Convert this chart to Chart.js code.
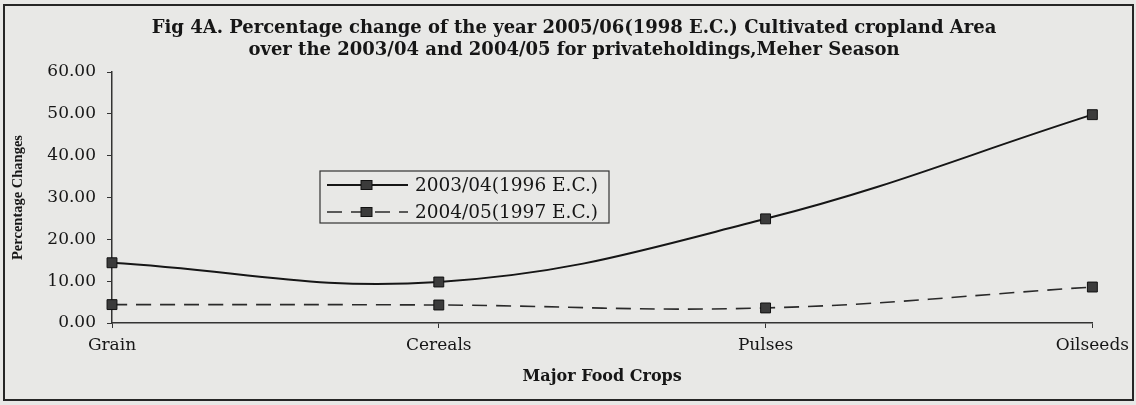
<!DOCTYPE html>
<html>
<head>
<meta charset="utf-8">
<script src="https://cdn.jsdelivr.net/npm/chart.js@4/dist/chart.umd.min.js"></script>
<style>
  html, body { margin: 0; padding: 0; background: #e8e8e6; }
  #wrap { position: relative; width: 1136px; height: 405px; }
  #frame {
    position: absolute; left: 3px; top: 4px; width: 1127px; height: 393px;
    border: 2px solid #262626; pointer-events: none;
  }
</style>
</head>
<body>
<div id="wrap">
  <canvas id="chart" width="1136" height="405"></canvas>
  <div id="frame"></div>
</div>
<script>
// 作物类别
const categories = ['Grain', 'Cereals', 'Pulses', 'Oilseeds'];

// 两个对比年度的百分比变化
const change200304 = [14.4, 9.8, 24.9, 49.8];
const change200405 = [4.4, 4.3, 3.6, 8.6];

// y 轴刻度
const yMin = 0;
const yMax = 60;
const yStep = 10;

const titleLines = [
  'Fig 4A. Percentage change of the year 2005/06(1998 E.C.) Cultivated cropland Area',
  'over the 2003/04 and 2004/05 for privateholdings,Meher Season'
];

const serif = '"DejaVu Serif", "Liberation Serif", serif';
const ink = '#161616';

// 标题：居中于整幅图（而不是绘图区）
const pageTitle = {
  id: 'pageTitle',
  afterDraw(chart) {
    const { ctx, width } = chart;
    ctx.save();
    ctx.font = 'bold 18px ' + serif;
    ctx.fillStyle = ink;
    ctx.textAlign = 'center';
    ctx.textBaseline = 'middle';
    titleLines.forEach((t, i) => ctx.fillText(t, width / 2 + 6, 28 + i * 22));
    ctx.restore();
  }
};

// 图内的图例框
const boxLegend = {
  id: 'boxLegend',
  afterDraw(chart) {
    const { ctx, chartArea } = chart;
    const x0 = chartArea.left + 208;
    const y0 = chartArea.top + 99;
    const w = 289, h = 52;
    ctx.save();
    ctx.strokeStyle = '#333';
    ctx.lineWidth = 1.2;
    ctx.strokeRect(x0, y0, w, h);
    ctx.font = '18.5px ' + serif;
    ctx.textBaseline = 'middle';
    chart.data.datasets.forEach((ds, i) => {
      const y = y0 + 14 + i * 27;
      ctx.strokeStyle = ds.borderColor;
      ctx.lineWidth = ds.borderWidth;
      ctx.setLineDash(ds.borderDash || []);
      ctx.beginPath();
      ctx.moveTo(x0 + 7, y);
      ctx.lineTo(x0 + 88, y);
      ctx.stroke();
      ctx.setLineDash([]);
      ctx.fillStyle = ds.pointBackgroundColor;
      ctx.fillRect(x0 + 41, y - 4.5, 11, 9);
      ctx.strokeStyle = ds.pointBorderColor;
      ctx.lineWidth = 1;
      ctx.strokeRect(x0 + 41, y - 4.5, 11, 9);
      ctx.fillStyle = ink;
      ctx.fillText(ds.label, x0 + 95, y + 1);
    });
    ctx.restore();
  }
};

new Chart(document.getElementById('chart'), {
  type: 'line',
  data: {
    labels: categories,
    datasets: [{
      label: '2003/04(1996 E.C.)',
      data: change200304,
      borderColor: ink,
      borderWidth: 2,
      tension: 0.4,
      pointStyle: 'rect',
      pointRadius: 7,
      pointBackgroundColor: '#3b3b3b',
      pointBorderColor: '#111',
      pointBorderWidth: 1
    }, {
      label: '2004/05(1997 E.C.)',
      data: change200405,
      borderColor: '#2a2a2a',
      borderWidth: 1.6,
      borderDash: [15, 9],
      tension: 0.4,
      pointStyle: 'rect',
      pointRadius: 7,
      pointBackgroundColor: '#3b3b3b',
      pointBorderColor: '#111',
      pointBorderWidth: 1
    }]
  },
  options: {
    responsive: false,
    animation: false,
    layout: { padding: { left: 8, right: 43, top: 72, bottom: 12 } },
    plugins: {
      legend: { display: false },
      tooltip: { enabled: false },
      title: { display: false }
    },
    scales: {
      x: {
        afterFit: s => { s.height = 70; },
        grid: { drawOnChartArea: false, tickLength: 5, color: '#333' },
        border: { color: '#333', width: 1.5 },
        ticks: { color: ink, padding: 7, font: { family: serif, size: 17 } },
        title: {
          display: true,
          text: 'Major Food Crops',
          color: ink,
          font: { family: serif, size: 16, weight: 'bold' },
          padding: { top: 0, bottom: 7 }
        }
      },
      y: {
        min: yMin,
        max: yMax,
        afterFit: s => { s.width = 104; },
        grid: { drawOnChartArea: false, tickLength: 5, color: '#333' },
        border: { color: '#333', width: 1.5 },
        ticks: {
          stepSize: yStep,
          color: ink,
          padding: 11,
          font: { family: serif, size: 17 },
          callback: v => v.toFixed(2)
        },
        title: {
          display: true,
          text: 'Percentage Changes',
          color: ink,
          font: { family: '"Liberation Serif", serif', size: 14.5, weight: 'bold' },
          padding: { top: 2, bottom: 0 }
        }
      }
    }
  },
  plugins: [pageTitle, boxLegend]
});
</script>
</body>
</html>
